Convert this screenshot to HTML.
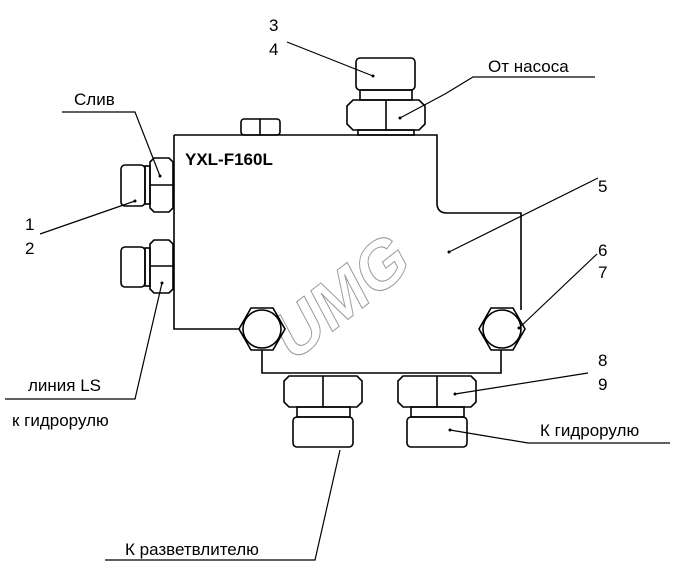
<!DOCTYPE html>
<html><head><meta charset="utf-8"><style>
html,body{margin:0;padding:0;background:#fff;}
svg{display:block;}
text{font-family:"Liberation Sans",sans-serif;fill:#000;}
</style></head><body>
<svg width="691" height="584" viewBox="0 0 691 584" xmlns="http://www.w3.org/2000/svg">
<text x="337" y="328" transform="rotate(-38 337 328) skewX(-10)" font-size="66" font-weight="bold" style="fill:none;stroke:#999;stroke-width:1">UMG</text>
<g fill="none" stroke="#000" stroke-width="1.6">
<path d="M174,135 H437 V203 Q437,213 447,213 H521 V310"/>
<path d="M174,135 V329 H240"/>
<path d="M262,350 V373 H501 V350"/>
<polygon points="239,329 251,308 273,308 285,329 273,350 251,350" fill="#fff"/>
<circle cx="262" cy="329" r="19"/>
<polygon points="479,329 491,308 513,308 525,329 513,350 491,350"/>
<circle cx="502" cy="329" r="19"/>
<rect x="241" y="119" width="39" height="16" rx="3"/>
<line x1="260" y1="119" x2="260" y2="135"/>
<rect x="356" y="58" width="59" height="32" rx="4"/>
<rect x="360" y="90" width="52" height="10"/>
<path d="M353,100 H419 L425,106 V124 L419,130 H353 L347,124 V106 Z"/>
<line x1="386" y1="100" x2="386" y2="130"/>
<rect x="358" y="130" width="56" height="5"/>
<path d="M154,158 H169 L173,162 V208 L169,212 H154 L150,208 V162 Z"/>
<line x1="150" y1="185" x2="173" y2="185"/>
<rect x="145" y="166" width="5" height="38"/>
<rect x="121" y="165" width="24" height="41" rx="4"/>
<path d="M154,240 H169 L173,244 V289 L169,293 H154 L150,289 V244 Z"/>
<line x1="150" y1="266" x2="173" y2="266"/>
<rect x="145" y="248" width="5" height="38"/>
<rect x="121" y="247" width="24" height="40" rx="4"/>
<path d="M289,376 H357 L362,381 V402 L357,407 H289 L284,402 V381 Z"/>
<line x1="323" y1="376" x2="323" y2="407"/>
<rect x="297" y="407" width="53" height="10"/>
<rect x="293" y="417" width="60" height="30" rx="4"/>
<path d="M403,376 H471 L476,381 V402 L471,407 H403 L398,402 V381 Z"/>
<line x1="437" y1="376" x2="437" y2="407"/>
<rect x="411" y="407" width="53" height="10"/>
<rect x="407" y="417" width="60" height="30" rx="4"/>
</g>
<g fill="none" stroke="#000" stroke-width="1.2">
<path d="M287,42 L373,76"/>
<path d="M400,118 L445,94 L473,77 H595"/>
<path d="M62,112 H135 L160,176"/>
<path d="M40,234 L135,201"/>
<path d="M5,399 H135 L162,283"/>
<path d="M449,252 L598,178"/>
<path d="M519,328 L597,254"/>
<path d="M455,394 L588,373"/>
<path d="M450,430 L528,443 H670"/>
<path d="M340,450 L315,560 H105"/>
</g>
<g fill="#000"><circle cx="373" cy="76" r="1.5"/><circle cx="400" cy="118" r="1.5"/><circle cx="160" cy="176" r="1.5"/><circle cx="135" cy="201" r="1.5"/><circle cx="162" cy="283" r="1.5"/><circle cx="449" cy="252" r="1.5"/><circle cx="519" cy="328" r="1.5"/><circle cx="455" cy="394" r="1.5"/><circle cx="450" cy="430" r="1.5"/></g>
<g font-size="17">
<text x="269" y="31">3</text>
<text x="269" y="55">4</text>
<text x="488" y="72">От насоса</text>
<text x="74" y="105">Слив</text>
<text x="25" y="230">1</text>
<text x="25" y="254">2</text>
<text x="598" y="192">5</text>
<text x="598" y="256">6</text>
<text x="598" y="278">7</text>
<text x="598" y="366">8</text>
<text x="598" y="390">9</text>
<text x="28" y="391">линия LS</text>
<text x="12" y="426">к гидрорулю</text>
<text x="540" y="436">К гидрорулю</text>
<text x="125" y="555">К разветвлителю</text>
<text x="185" y="165" font-weight="bold">YXL-F160L</text>
</g>
</svg>
</body></html>
